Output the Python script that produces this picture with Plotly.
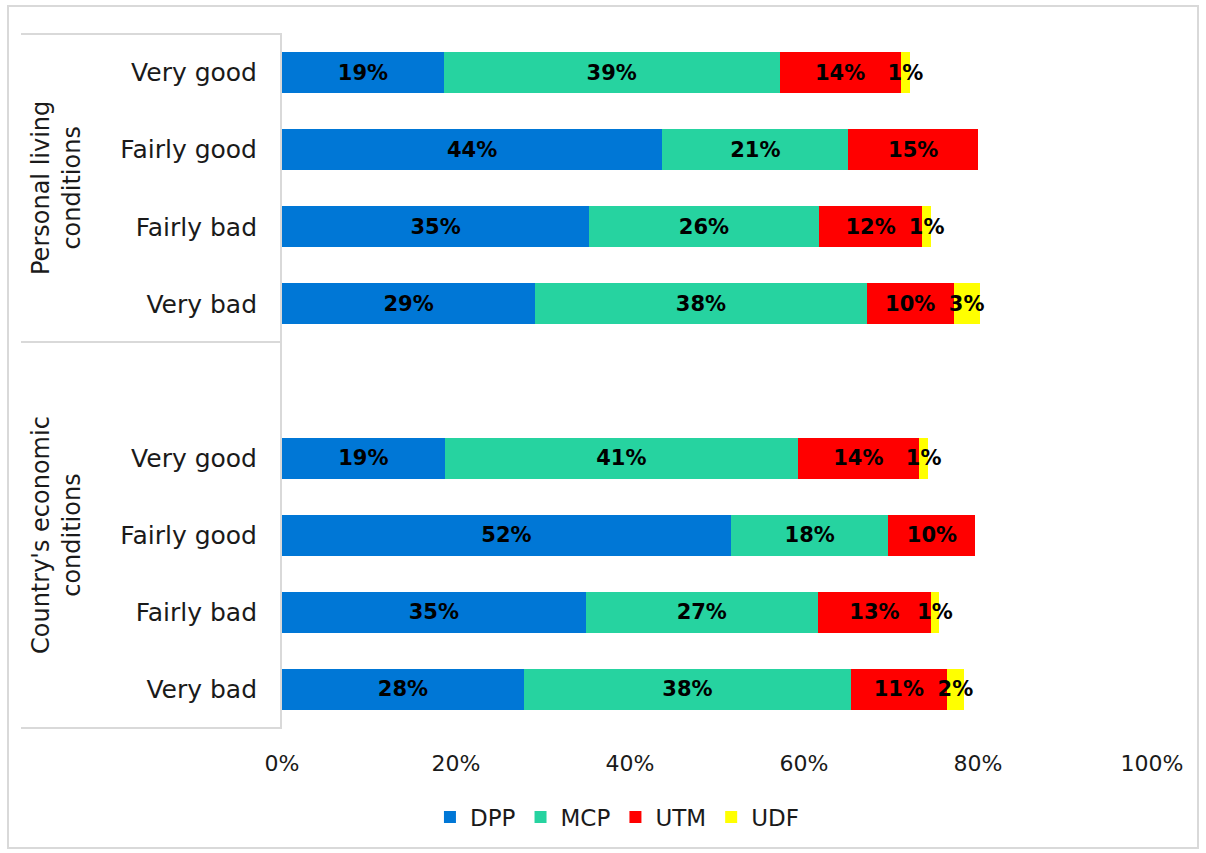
import plotly.graph_objects as go

# Survey breakdown: party support by rating of living / economic conditions
groups = ["Personal living<br>conditions", "Country's economic<br>conditions"]
conditions = ["Very good", "Fairly good", "Fairly bad", "Very bad"]
parties = ["DPP", "MCP", "UTM", "UDF"]
party_colors = ["#0077D6", "#26D3A0", "#FF0000", "#FFFF00"]

# Shares (%) in row order: personal (4 rows) then country (4 rows)
dpp = [18.6, 43.7, 35.3, 29.1, 18.7, 51.6, 34.9, 27.8]
mcp = [38.6, 21.4, 26.4, 38.1, 40.6, 18.1, 26.7, 37.6]
utm = [13.9, 14.9, 11.9, 10.0, 13.9, 10.0, 13.0, 11.0]
udf = [1.1, 0.0, 1.0, 3.0, 1.1, 0.0, 0.9, 2.0]
x_ticks = [0, 20, 40, 60, 80, 100]

# One empty slot separates the two groups on the category axis
rows = [0, 1, 2, 3, 5, 6, 7, 8]
row_labels = conditions + conditions

FONT = "DejaVu Sans"
W, H = 1206, 853
L, R, T, B = 282, 54, 34, 125
PW, PH = W - L - R, H - T - B


def px_x(px):
    return (px - L) / PW


def px_y(py):
    return (H - B - py) / PH


fig = go.Figure()
for name, vals, col in zip(parties, [dpp, mcp, utm, udf], party_colors):
    fig.add_trace(go.Bar(
        name=name,
        x=vals,
        y=rows,
        orientation="h",
        width=0.53,
        marker=dict(color=col, line=dict(width=0)),
        text=[f"{v:.0f}%" if v >= 0.5 else "" for v in vals],
        textposition="inside",
        insidetextanchor="middle",
        constraintext="none",
        textangle=0,
        insidetextfont=dict(family=FONT, size=21, color="black", weight="bold"),
        hoverinfo="skip",
    ))

shapes = []
gray = "#D9D9D9"
# outer frame
shapes.append(dict(type="rect", xref="paper", yref="paper",
                   x0=px_x(8), x1=px_x(1198), y0=px_y(848), y1=px_y(6),
                   line=dict(color=gray, width=2), fillcolor="rgba(0,0,0,0)",
                   layer="below"))
# group separators on the category axis
for py in [34, 342, 728]:
    shapes.append(dict(type="line", xref="paper", yref="paper",
                       x0=px_x(21), x1=0, y0=px_y(py), y1=px_y(py),
                       line=dict(color=gray, width=2)))

annotations = []
for label, (top, bot) in zip(groups, [(34, 342), (342, 728)]):
    annotations.append(dict(
        text=label, xref="paper", yref="paper",
        x=px_x(56), y=px_y((top + bot) / 2),
        showarrow=False, textangle=-90,
        font=dict(family=FONT, size=24, color="#1a1a1a"),
        align="center", xanchor="center", yanchor="middle",
    ))

fig.update_layout(
    width=W, height=H,
    margin=dict(l=L, r=R, t=T, b=B),
    barmode="stack",
    paper_bgcolor="white", plot_bgcolor="white",
    font=dict(family=FONT, color="#1a1a1a"),
    showlegend=True,
    legend=dict(orientation="h", x=0.385, xanchor="center",
                y=px_y(817), yanchor="middle",
                font=dict(family=FONT, size=23, color="#1a1a1a"),
                traceorder="normal", itemclick=False),
    shapes=shapes,
    annotations=annotations,
    xaxis=dict(range=[0, 100], tickvals=x_ticks,
               ticktext=[f"{t}%" for t in x_ticks],
               showgrid=False, zeroline=False, showline=False,
               ticks="", ticklabelstandoff=20,
               tickfont=dict(family=FONT, size=22, color="#1a1a1a")),
    yaxis=dict(range=[8.5, -0.5], tickvals=rows, ticktext=row_labels,
               showgrid=False, zeroline=False,
               showline=True, linecolor=gray, linewidth=2,
               ticks="", ticklabelstandoff=18,
               tickfont=dict(family=FONT, size=25, color="#1a1a1a")),
)

fig.write_html("out.html")
